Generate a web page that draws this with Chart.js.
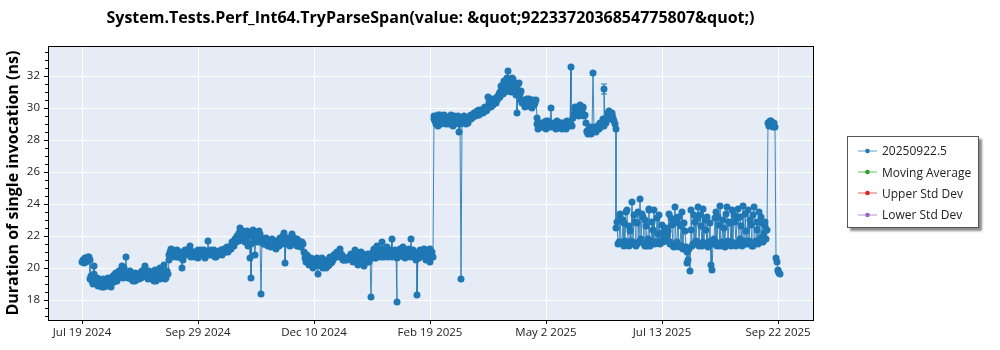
<!DOCTYPE html>
<html>
<head>
<meta charset="utf-8">
<script src="https://cdn.jsdelivr.net/npm/chart.js@4.4.1/dist/chart.umd.min.js"></script>
<style>
  html, body { margin: 0; padding: 0; background: #fff; }
  #wrap { position: relative; width: 1000px; height: 350px; }
  #legend {
    position: absolute; left: 847px; top: 136px; width: 132px; height: 92px;
    box-sizing: border-box; border: 1px solid #555; background: #fff;
    box-shadow: 3px 3px 2px rgba(0, 0, 0, 0.45);
    padding: 3px 0 0 10px; font: 12px 'Open Sans', sans-serif; color: #222;
  }
  .item { height: 21.4px; display: flex; align-items: center; white-space: nowrap; }
  .item svg { margin-right: 5px; }
</style>
</head>
<body>
<div id="wrap">
  <canvas id="chart" width="1000" height="350"></canvas>
  <div id="legend"></div>
</div>
<script>
const chartTitle = 'System.Tests.Perf_Int64.TryParseSpan(value: &quot;9223372036854775807&quot;)';
const yAxisTitle = 'Duration of single invocation (ns)';
const seriesLabels = ['20250922.5', 'Moving Average', 'Upper Std Dev', 'Lower Std Dev'];
const seriesColors = ['#1f77b4', '#2ca02c', '#d62728', '#9467bd'];

// x = days since Jul 19 2024
const tickDays = [0, 72, 144, 216, 288, 360, 432];
const tickLabels = ['Jul 19 2024', 'Sep 29 2024', 'Dec 10 2024', 'Feb 19 2025', 'May 2 2025', 'Jul 13 2025', 'Sep 22 2025'];
const yMajorTicks = [18, 20, 22, 24, 26, 28, 30, 32];

// first run of each day, ns
const julToSep2024 = [
  20.4, 20.3, 20.6, 20.5, 20.7, 19.3, 19.2, 20.1, 19.1, 19.4,
  19.0, 19.2, 18.8, 19.3, 19.0, 18.9, 19.4, 19.1, 18.8, 19.5,
  19.3, 19.7, 19.4, 19.8, 19.9, 19.8, 20.0, 20.7, 19.7, 19.5,
  19.3, 19.6, 19.4, 19.2, 19.5, 19.3, 19.6, 19.8, 19.5, 20.1,
  19.6, 19.4, 19.7, 19.3, 19.6, 19.9, 19.2, 19.5, 20.0, 19.4,
  19.7, 20.2, 19.4, 19.6
];
const sepToDec2024 = [
  20.8, 21.2, 20.9, 21.0, 20.7, 21.1, 20.9, 20.6, 20.0, 20.8,
  21.0, 20.9, 21.2, 21.4, 20.8, 21.0, 20.7, 20.9, 21.1, 20.8,
  21.0, 20.9, 20.6, 21.0, 21.7, 20.9, 21.1, 20.8, 20.9, 20.7,
  21.0, 20.9, 21.1, 20.8, 21.2, 21.0, 21.3, 21.1, 21.4,
  21.6, 21.4, 21.8, 22.0, 21.7, 22.5, 21.9, 22.1,
  21.6, 22.3, 21.4, 20.6, 19.4, 22.4, 20.8, 22.0, 21.8, 22.1, 18.4,
  21.7, 21.5, 21.9, 21.4, 21.6, 21.3, 21.8, 21.5, 21.2, 21.6, 21.4,
  21.9, 21.5, 22.2, 20.3, 21.6, 21.8, 21.4, 22.1, 21.7,
  21.5, 21.8, 21.4, 21.6, 21.3, 21.5
];
const decToFeb2025 = [
  20.9, 20.4, 20.7, 20.2, 20.6, 20.0, 20.5, 20.3, 19.6,
  20.4, 20.1, 20.6, 20.3, 20.0, 20.5, 20.2, 20.7, 20.4, 20.6,
  20.9, 21.0, 20.7, 21.2, 20.8, 20.5, 20.5, 20.6, 20.6, 20.7,
  20.9, 20.4, 21.1, 20.6, 20.2, 20.8, 21.0, 20.5, 20.1, 20.7, 20.9, 20.4,
  18.2,
  20.8, 21.2, 20.6, 21.4, 20.9, 21.0, 21.6, 20.7, 21.1, 21.3, 20.8, 21.0,
  21.8, 20.9, 21.1, 17.9, 20.7, 21.2, 20.9, 21.3, 20.6, 21.0,
  20.8, 21.2, 21.8, 20.7, 21.0, 20.5, 18.3, 20.6, 21.0, 20.8,
  21.2, 20.5, 21.1, 20.9, 20.4, 21.0
];
const febToJun2025 = [
  29.5, 29.2, 29.4, 28.9, 29.6, 29.1, 29.3, 29.5, 29.0, 29.4,
  29.2, 29.6, 28.9, 29.3, 29.1, 29.5, 28.5, 19.3, 29.2, 29.5,
  29.0, 29.4, 29.3, 29.6, 29.4, 29.7, 29.5, 29.8, 29.6, 29.7,
  29.9, 29.8, 30.1, 29.9, 30.7, 30.3, 30.5, 30.2, 30.6, 30.4,
  30.6, 31.0, 31.4, 30.9, 31.7, 31.2, 32.3, 31.5, 31.0, 31.8,
  31.3, 30.8, 29.7, 31.6, 31.1, 30.3, 30.5, 30.1, 30.6, 30.2,
  30.4, 30.0, 30.5, 30.3, 29.4, 28.7, 29.0, 28.8, 29.1, 28.9,
  28.7, 29.2, 28.8, 30.0, 28.9, 29.1, 28.7, 29.0, 28.8, 29.1,
  28.9, 29.0, 28.7, 29.2, 28.9, 32.6, 28.9, 29.6, 30.1, 29.8,
  29.5, 30.2, 29.7, 30.0, 29.6, 28.6, 28.4, 28.8, 28.5, 32.2,
  28.7, 28.5, 28.9, 29.0, 28.8, 29.3, 31.2, 29.1, 29.5, 29.8,
  29.3, 29.6, 29.2, 28.7
];
const junToSep2025 = [
  22.9, 21.6, 23.4, 21.5, 22.8, 21.7, 23.6, 21.4, 22.3, 24.1,
  21.6, 22.9, 21.5, 23.5, 24.3, 21.7, 23.2, 21.4, 22.6, 21.8,
  23.7, 21.5, 22.4, 23.6, 21.6, 22.1, 23.3, 21.7, 22.2, 21.9,
  22.5, 22.0, 23.4, 21.5, 22.7, 21.3, 23.8, 21.6, 22.8, 21.4,
  23.5, 21.2, 22.3, 21.0, 20.5, 19.8, 23.6, 21.5, 22.9, 21.7,
  23.8, 21.4, 22.6, 23.7, 21.5, 22.4, 23.2, 21.6, 20.2, 19.9,
  21.8, 23.5, 21.4, 22.7, 23.9, 21.6, 22.5, 21.3, 23.8, 21.7,
  22.8, 23.6, 21.5, 22.9, 21.4, 23.7, 21.8, 22.6, 23.9, 21.5,
  22.3, 23.6, 21.6, 22.7, 21.4, 23.8, 21.7, 22.4, 23.5, 21.9,
  22.8, 22.2, 22.6, 22.4
];
const sep2025 = [29.0, 29.2, 29.1, 28.9, 28.8, 20.4, 19.8, 19.6];

// second run of each day, ns
const julToSep2024B = [
  20.5, 20.6, 20.4, 20.7, 20.5, 19.5, 19.0, 19.6, 19.3, 18.9,
  19.3, 18.9, 19.1, 18.8, 19.2, 19.3, 18.9, 19.0, 19.2, 19.1,
  19.6, 19.2, 19.5, 19.5, 20.1, 19.4, 19.7, 19.5, 19.4, 19.8,
  19.5, 19.2, 19.7, 19.5, 19.3, 19.7, 19.4, 19.5, 19.9, 19.5,
  19.3, 19.8, 19.5, 19.6, 19.2, 19.5, 19.6, 19.9, 19.3, 19.7,
  19.5, 19.3, 19.8, 20.5
];
const sepToDec2024B = [
  21.0, 20.7, 21.1, 20.8, 20.9, 20.7, 21.0, 20.8, 20.5, 21.1,
  20.8, 21.1, 20.9, 20.7, 21.0, 20.8, 21.0, 20.6, 20.9, 21.1,
  20.8, 21.1, 20.9, 20.8, 21.0, 20.8, 20.9, 21.1, 20.7, 21.0,
  20.8, 21.0, 20.9, 21.1, 21.0, 21.2, 21.0, 21.3, 21.2,
  21.5, 21.7, 21.6, 21.9, 22.2, 22.0, 22.3, 21.8,
  22.0, 21.7, 22.2, 21.5, 22.0, 21.8, 22.2, 21.6, 22.3, 21.6, 21.9,
  21.5, 21.8, 21.6, 21.7, 21.4, 21.7, 21.5, 21.3, 21.7, 21.5, 21.8,
  21.6, 22.0, 21.7, 21.5, 21.9, 21.5, 21.7, 21.6, 21.9,
  21.7, 21.4, 21.7, 21.5, 21.6, 21.0
];
const decToFeb2025B = [
  20.6, 20.8, 20.3, 20.5, 20.2, 20.4, 20.1, 20.6, 20.2,
  20.2, 20.5, 20.0, 20.4, 20.3, 20.1, 20.6, 20.3, 20.5, 20.8,
  20.7, 20.8, 21.0, 20.9, 20.6, 20.5, 20.6, 20.5, 20.7, 20.8,
  20.6, 20.9, 20.7, 20.4, 20.7, 20.5, 20.8, 20.9, 20.6, 20.4, 20.7, 20.8,
  20.6,
  21.0, 20.6, 21.0, 20.8, 21.2, 20.7, 21.0, 21.2, 20.9, 20.7, 21.1, 20.9,
  20.7, 21.0, 20.8, 20.6, 21.0, 20.8, 21.1, 20.7, 21.0, 20.9,
  21.1, 20.7, 20.9, 21.1, 20.8, 20.9, 20.7, 21.1, 20.9, 21.0,
  20.7, 21.0, 20.8, 21.2, 20.9, 20.7
];
const febToJun2025B = [
  29.3, 29.0, 29.6, 29.2, 29.0, 29.4, 29.6, 29.1, 29.3, 29.0,
  29.4, 29.1, 29.5, 29.0, 29.4, 29.2, 29.0, 29.1, 29.4, 29.2,
  29.3, 29.1, 29.5, 29.3, 29.6, 29.5, 29.7, 29.6, 29.9, 29.8,
  29.7, 30.0, 29.8, 30.1, 30.4, 30.1, 30.6, 30.4, 30.3, 30.7,
  30.9, 30.7, 31.2, 31.6, 31.0, 31.9, 31.4, 31.1, 31.9, 31.4,
  31.6, 31.2, 31.5, 30.9, 30.5, 30.4, 30.2, 30.5, 30.3, 30.6,
  30.1, 30.3, 30.2, 30.5, 29.0, 29.1, 28.8, 29.1, 28.9, 29.2,
  29.0, 28.9, 29.1, 28.8, 29.0, 28.8, 29.2, 28.9, 29.1, 28.7,
  29.1, 28.8, 29.0, 28.9, 29.1, 29.0, 29.4, 29.9, 29.7, 30.0,
  29.8, 29.6, 30.1, 29.5, 29.1, 28.5, 28.7, 28.4, 28.6, 28.8,
  28.6, 28.8, 28.7, 29.1, 29.0, 28.9, 29.2, 29.4, 29.7, 29.4,
  29.7, 29.4, 29.0, 22.5
];
const junToSep2025B = [
  21.5, 23.2, 21.6, 23.0, 21.4, 23.5, 21.5, 22.6, 21.7, 21.5,
  23.3, 21.4, 22.8, 21.6, 21.8, 23.4, 21.5, 23.0, 21.4, 23.6,
  21.4, 22.9, 21.7, 21.5, 23.1, 21.6, 21.5, 22.7, 21.6, 22.4,
  21.7, 22.3, 21.6, 23.1, 21.4, 22.9, 21.5, 23.2, 21.3, 22.6,
  21.4, 22.8, 21.3, 20.3, 21.2, 22.4, 21.4, 23.3, 21.5, 23.1,
  21.5, 23.3, 21.4, 21.6, 23.0, 21.5, 21.3, 22.8, 21.7, 21.5,
  23.1, 21.6, 23.2, 21.4, 21.5, 23.0, 21.4, 23.4, 21.5, 22.9,
  21.4, 21.6, 23.3, 21.5, 23.1, 21.6, 23.2, 21.4, 21.7, 23.4,
  21.5, 21.7, 23.0, 21.4, 23.3, 21.6, 22.9, 21.5, 21.6, 23.2,
  21.6, 22.9, 21.8, 29.1
];
const sep2025B = [28.9, 29.2, 28.8, 29.1, 20.6, 19.9, 19.7];

// visible error bar
const errDays = [324];
const errLow = [30.9];
const errHigh = [31.5];

const runsA = [].concat(julToSep2024, sepToDec2024, decToFeb2025, febToJun2025, junToSep2025, sep2025);
const runsB = [].concat(julToSep2024B, sepToDec2024B, decToFeb2025B, febToJun2025B, junToSep2025B, sep2025B);
const points = [];
runsA.forEach((v, i) => {
  points.push({ x: i, y: v });
  if (i < runsB.length) points.push({ x: i + 0.5, y: runsB[i] });
});

const fontFamily = "'Open Sans', sans-serif";

const plotBackground = {
  id: 'plotBackground',
  beforeDraw(chart) {
    const { ctx, chartArea: a } = chart;
    ctx.save();
    ctx.fillStyle = '#e5ecf6';
    ctx.fillRect(a.left, a.top, a.right - a.left, a.bottom - a.top);
    ctx.restore();
  },
  afterDraw(chart) {
    const { ctx, chartArea: a } = chart;
    ctx.save();
    ctx.strokeStyle = '#000';
    ctx.lineWidth = 1;
    ctx.strokeRect(Math.round(a.left) + 0.5, Math.round(a.top) + 0.5, Math.round(a.right - a.left), Math.round(a.bottom - a.top));
    ctx.restore();
  }
};

const minorTicks = {
  id: 'minorTicks',
  afterDraw(chart) {
    const { ctx, scales: { y }, chartArea: a } = chart;
    ctx.save();
    ctx.strokeStyle = '#000';
    ctx.lineWidth = 1;
    for (let v = Math.ceil(y.min * 2) / 2; v <= y.max; v += 0.5) {
      if (yMajorTicks.includes(v)) continue;
      const py = Math.round(y.getPixelForValue(v)) + 0.5;
      ctx.beginPath();
      ctx.moveTo(a.left - 3, py);
      ctx.lineTo(a.left, py);
      ctx.stroke();
    }
    ctx.restore();
  }
};

const errorBars = {
  id: 'errorBars',
  afterDatasetsDraw(chart) {
    const { ctx, scales: { x, y } } = chart;
    ctx.save();
    ctx.strokeStyle = seriesColors[0];
    ctx.lineWidth = 1;
    errDays.forEach((d, i) => {
      const px = x.getPixelForValue(d);
      const y1 = y.getPixelForValue(errLow[i]);
      const y2 = y.getPixelForValue(errHigh[i]);
      ctx.beginPath();
      ctx.moveTo(px, y1); ctx.lineTo(px, y2);
      ctx.moveTo(px - 3, y1); ctx.lineTo(px + 3, y1);
      ctx.moveTo(px - 3, y2); ctx.lineTo(px + 3, y2);
      ctx.stroke();
    });
    ctx.restore();
  }
};

const chart = new Chart(document.getElementById('chart'), {
  type: 'line',
  data: {
    datasets: [
      {
        label: seriesLabels[0],
        data: points,
        borderColor: 'rgba(31, 119, 180, 0.85)',
        backgroundColor: seriesColors[0],
        borderWidth: 1,
        pointRadius: 3.5,
        pointBorderWidth: 0,
        pointBackgroundColor: seriesColors[0],
        tension: 0,
      },
      { label: seriesLabels[1], data: [], borderColor: seriesColors[1], backgroundColor: seriesColors[1] },
      { label: seriesLabels[2], data: [], borderColor: seriesColors[2], backgroundColor: seriesColors[2] },
      { label: seriesLabels[3], data: [], borderColor: seriesColors[3], backgroundColor: seriesColors[3] },
    ],
  },
  options: {
    responsive: false,
    animation: false,
    layout: { padding: { right: 187 } },
    plugins: {
      legend: { display: false },
      tooltip: { enabled: false },
      title: {
        display: true,
        text: chartTitle,
        fullSize: false,
        color: '#000',
        font: { family: fontFamily, size: 16, weight: 'bold' },
        padding: { top: 9, bottom: 18 },
        lineHeight: 1.2,
      },
    },
    scales: {
      x: {
        type: 'linear',
        min: -21.3,
        max: 453.5,
        alignToPixels: true,
        afterBuildTicks: (s) => { s.ticks = tickDays.map((v) => ({ value: v })); },
        afterFit: (s) => { s.height = 30; },
        ticks: {
          autoSkip: false,
          maxRotation: 0,
          padding: 2,
          color: '#222',
          font: { family: fontFamily, size: 11.5 },
          callback: (v, i) => tickLabels[i],
        },
        grid: { color: '#fff', lineWidth: 1, tickColor: '#000', tickLength: 4 },
        border: { color: '#000', width: 1 },
      },
      y: {
        min: 16.75,
        max: 33.875,
        alignToPixels: true,
        afterBuildTicks: (s) => { s.ticks = yMajorTicks.map((v) => ({ value: v })); },
        afterFit: (s) => { s.width = 48; },
        title: {
          display: true,
          text: yAxisTitle,
          color: '#000',
          font: { family: fontFamily, size: 16, weight: 'bold' },
          padding: { top: 4, bottom: 0 },
        },
        ticks: {
          autoSkip: false,
          padding: 4,
          color: '#222',
          font: { family: fontFamily, size: 11.5 },
        },
        grid: { color: '#fff', lineWidth: 1, tickColor: '#000', tickLength: 4 },
        border: { color: '#000', width: 1 },
      },
    },
  },
  plugins: [plotBackground, minorTicks, errorBars],
});

const legendEl = document.getElementById('legend');
chart.data.datasets.forEach((ds, i) => {
  const row = document.createElement('div');
  row.className = 'item';
  row.innerHTML =
    `<svg width="19" height="8"><line x1="0" y1="4" x2="19" y2="4" stroke="${seriesColors[i]}" stroke-opacity="0.7" stroke-width="1"/>` +
    `<circle cx="9.5" cy="4" r="2.3" fill="${seriesColors[i]}"/></svg><span>${ds.label}</span>`;
  legendEl.appendChild(row);
});
</script>
</body>
</html>
